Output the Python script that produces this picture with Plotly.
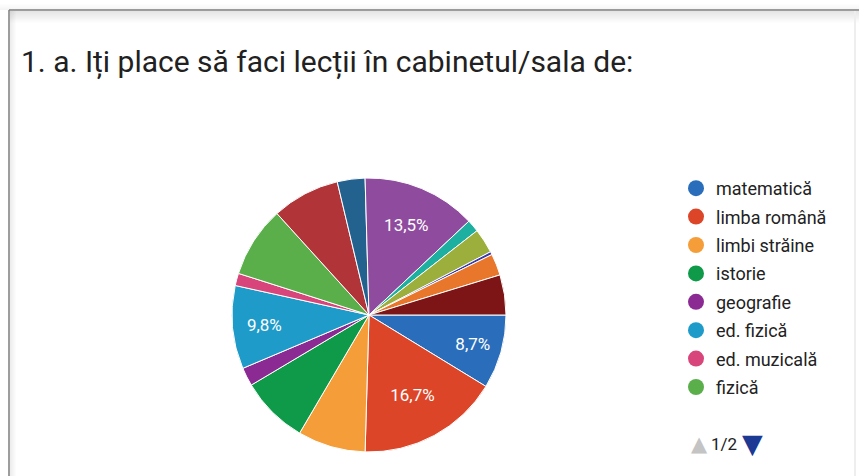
import plotly.graph_objects as go

W, H = 859, 476

title_text = "1. a. Iți place să faci lecții în cabinetul/sala de:"

categories = [
    "matematică", "limba română", "limbi străine", "istorie",
    "geografie", "ed. fizică", "ed. muzicală", "fizică",
    "chimie", "biologie", "informatică", "ed. tehnologică",
    "ed. plastică", "religie", "educație civică", "alte",
]
counts = [24, 46, 22, 22, 6, 27, 4, 23, 22, 9, 37, 4, 8, 1, 7, 13]
colors = [
    "#2A6EBB", "#DD4529", "#F59D38", "#0E9A48", "#8C2A94", "#1E9BC9",
    "#D8457A", "#5AAF4B", "#B13538", "#23628F", "#8F4C9F", "#1DAFA0",
    "#9CAF3C", "#3A3AB0", "#E8772C", "#7D1416",
]
legend_page_size = 8
page_label = "1/2"
label_threshold = 8.5  # percent: smaller slices carry no label


def px(x):
    return x / W


def py(y):
    return 1 - y / H


total = sum(counts)
texts = []
for c in counts:
    p = c / total * 100
    texts.append((f"{p:.1f}".replace(".", ",") + "%") if p > label_threshold else "")

cx, cy, r = 369, 315, 137

fig = go.Figure()
fig.add_trace(go.Pie(
    labels=categories,
    values=counts,
    text=texts,
    textinfo="text",
    textposition="inside",
    insidetextorientation="horizontal",
    textfont=dict(color="white", size=17, family="Roboto"),
    marker=dict(colors=colors, line=dict(color="white", width=1)),
    sort=False,
    direction="clockwise",
    rotation=90,
    showlegend=False,
    hoverinfo="label+percent",
    domain=dict(x=[px(cx - r), px(cx + r)], y=[py(cy + r), py(cy - r)]),
))

for i, (name, col) in enumerate(zip(categories[:legend_page_size], colors[:legend_page_size])):
    fig.add_trace(go.Scatter(
        x=[None], y=[None], mode="markers", name=name,
        legendgroup=f"g{i}",
        marker=dict(color=col, size=16, symbol="circle"),
    ))

shapes = []
# card shadow (top, fading)
for k in range(12):
    a = 0.10 * (1 - k / 12)
    shapes.append(dict(type="rect", xref="paper", yref="paper",
                       x0=px(10), x1=px(859), y0=py(11 + k + 1), y1=py(11 + k),
                       fillcolor=f"rgba(0,0,0,{a:.3f})", line=dict(width=0), layer="below"))
for k in range(6):
    a = 0.07 * (1 - k / 6)
    shapes.append(dict(type="rect", xref="paper", yref="paper",
                       x0=px(10 + k), x1=px(11 + k), y0=py(476), y1=py(11),
                       fillcolor=f"rgba(0,0,0,{a:.3f})", line=dict(width=0), layer="below"))
    shapes.append(dict(type="rect", xref="paper", yref="paper",
                       x0=px(0), x1=px(859), y0=py(10 - k), y1=py(9 - k),
                       fillcolor=f"rgba(0,0,0,{a*0.6:.3f})", line=dict(width=0), layer="below"))
shapes.append(dict(type="line", xref="paper", yref="paper",
                   x0=px(9), x1=px(859), y0=py(10), y1=py(10),
                   line=dict(color="#7d7d7d", width=1.5)))
shapes.append(dict(type="line", xref="paper", yref="paper",
                   x0=px(9), x1=px(9), y0=py(10), y1=py(476),
                   line=dict(color="#7d7d7d", width=1.5)))
shapes.append(dict(type="line", xref="paper", yref="paper",
                   x0=px(855), x1=px(855), y0=py(11), y1=py(476),
                   line=dict(color="#eeeeee", width=2)))

annotations = [
    dict(xref="paper", yref="paper", x=px(699), y=py(444), xanchor="center", yanchor="middle",
         text="▲", showarrow=False, font=dict(family="DejaVu Sans", size=21, color="#c4c4c4")),
    dict(xref="paper", yref="paper", x=px(724), y=py(444), xanchor="center", yanchor="middle",
         text=page_label, showarrow=False, font=dict(family="Roboto", size=17, color="#222222")),
    dict(xref="paper", yref="paper", x=px(752.5), y=py(443), xanchor="center", yanchor="middle",
         text="▼", showarrow=False, font=dict(family="DejaVu Sans", size=27, color="#1c3a94")),
]

fig.update_layout(
    width=W, height=H,
    margin=dict(l=0, r=0, t=0, b=0),
    paper_bgcolor="white", plot_bgcolor="white",
    font=dict(family="Roboto", color="#222222"),
    title=dict(text=title_text, x=px(21), xanchor="left", xref="paper",
               y=py(61), yanchor="middle", yref="paper",
               font=dict(family="Roboto", size=30, color="#212121")),
    xaxis=dict(visible=False), yaxis=dict(visible=False),
    legend=dict(x=px(676), y=py(170), xanchor="left", yanchor="top",
                font=dict(family="Roboto", size=18, color="#222222"),
                traceorder="grouped", tracegroupgap=2,
                bgcolor="rgba(0,0,0,0)", itemclick=False, itemdoubleclick=False),
    shapes=shapes,
    annotations=annotations,
)

fig.write_html("out.html", config={"displayModeBar": False},
               post_script="document.body.style.margin='0';document.body.style.overflow='hidden';")
